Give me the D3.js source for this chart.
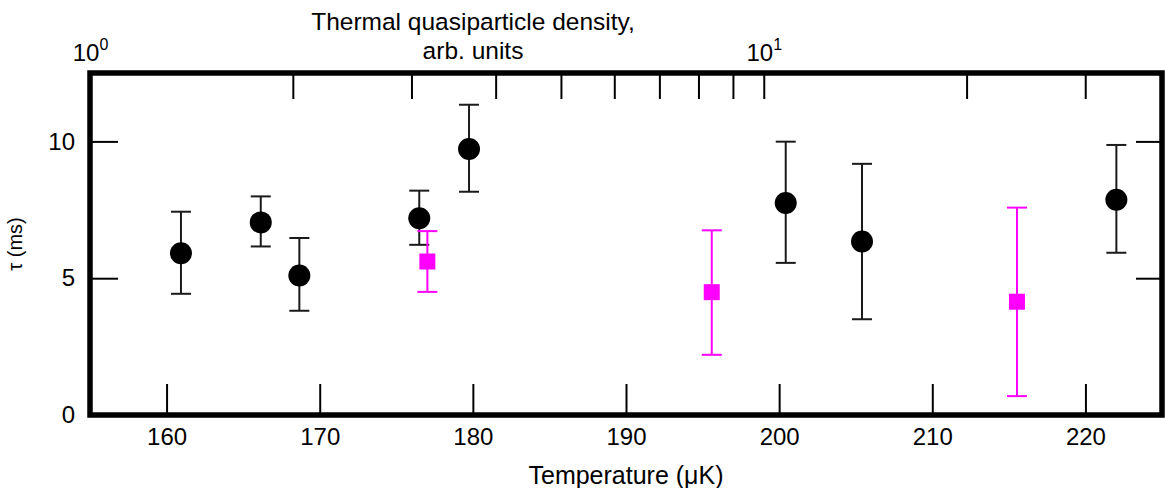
<!DOCTYPE html>
<html>
<head>
<meta charset="utf-8">
<script src="https://cdn.jsdelivr.net/npm/d3@7"></script>
<style>
  html, body { margin: 0; padding: 0; background: #fff; }
  svg { display: block; font-family: "Liberation Sans", Arial, Helvetica, sans-serif; }
</style>
</head>
<body>
<svg id="chart" width="1165" height="488"></svg>
<script>
// ---- data ----
const blackTemp = [160.94, 166.15, 168.67, 176.5, 179.75, 200.43, 205.41, 222.02];
const blackTau  = [5.91, 7.04, 5.10, 7.19, 9.72, 7.75, 6.34, 7.87];
const blackHi   = [7.43, 7.99, 6.47, 8.20, 11.34, 9.99, 9.18, 9.87];
const blackLo   = [4.43, 6.16, 3.81, 6.22, 8.16, 5.56, 3.50, 5.93];

const magTemp = [177.03, 195.6, 215.53];
const magTau  = [5.61, 4.49, 4.14];
const magHi   = [6.72, 6.75, 7.58];
const magLo   = [4.50, 2.20, 0.69];

const xTicks = [160, 170, 180, 190, 200, 210, 220];
const yTicks = [0, 5, 10];
const topTicks = [1, 2, 3, 4, 5, 6, 7, 8, 9, 10, 20, 30];
const topLabelled = [1, 10];
const xDomain = [155, 225];
const yDomain = [0, 12.5];
const topDomain = [1, 39.0];

// ---- layout ----
const L = 90, R = 1162, T = 73, B = 415;
const svg = d3.select("#chart");

const x = d3.scaleLinear().domain(xDomain).range([L, R]);
const y = d3.scaleLinear().domain(yDomain).range([B, T]);
const xTop = d3.scaleLog().domain(topDomain).range([L, R]);

function styleAxis(g, size) {
  g.select(".domain").remove();
  g.selectAll(".tick line").attr("stroke", "#000").attr("stroke-width", 2);
  g.selectAll(".tick text").attr("fill", "#000").attr("font-size", size)
   .attr("font-family", "Liberation Sans, Arial, sans-serif");
}

// bottom axis
svg.append("g").attr("transform", `translate(0,${B})`)
  .call(d3.axisBottom(x).tickValues(xTicks).tickSize(-31).tickPadding(13).tickFormat(d3.format("d")))
  .call(g => styleAxis(g, 24));

// left axis
svg.append("g").attr("transform", `translate(${L},0)`)
  .call(d3.axisLeft(y).tickValues(yTicks).tickSize(-28).tickPadding(15).tickFormat(d3.format("d")))
  .call(g => styleAxis(g, 24));

// right axis (ticks only)
svg.append("g").attr("transform", `translate(${R},0)`)
  .call(d3.axisRight(y).tickValues(yTicks.filter(v => v > 0)).tickSize(-26).tickFormat(""))
  .call(g => styleAxis(g, 24));

// top log axis
const topAxisG = svg.append("g").attr("transform", `translate(0,${T})`)
  .call(d3.axisTop(xTop).tickValues(topTicks).tickSize(-26).tickPadding(12)
    .tickFormat(d => topLabelled.includes(d) ? "10" : ""))
  .call(g => styleAxis(g, 24));
topAxisG.selectAll(".tick text").each(function(d) {
  if (!topLabelled.includes(d)) return;
  const t = d3.select(this);
  t.attr("dy", null).attr("y", -12);
  t.append("tspan").attr("font-size", 16).attr("dy", -11)
   .text(Math.round(Math.log10(d)));
});

// frame
svg.append("rect")
  .attr("x", L).attr("y", T).attr("width", R - L).attr("height", B - T)
  .attr("fill", "none").attr("stroke", "#000").attr("stroke-width", 5.5);

// error bars + markers
function drawSeries(temp, tau, hi, lo, color, barColor, shape) {
  const g = svg.append("g");
  const data = temp.map((t, i) => ({t, v: tau[i], hi: hi[i], lo: lo[i]}));
  const cap = 10;
  g.selectAll("line.v").data(data).join("line")
    .attr("x1", d => x(d.t)).attr("x2", d => x(d.t))
    .attr("y1", d => y(d.hi)).attr("y2", d => y(d.lo))
    .attr("stroke", barColor).attr("stroke-width", 2);
  g.selectAll("line.ch").data(data).join("line")
    .attr("x1", d => x(d.t) - cap).attr("x2", d => x(d.t) + cap)
    .attr("y1", d => y(d.hi)).attr("y2", d => y(d.hi))
    .attr("stroke", barColor).attr("stroke-width", 2);
  g.selectAll("line.cl").data(data).join("line")
    .attr("x1", d => x(d.t) - cap).attr("x2", d => x(d.t) + cap)
    .attr("y1", d => y(d.lo)).attr("y2", d => y(d.lo))
    .attr("stroke", barColor).attr("stroke-width", 2);
  if (shape === "circle") {
    g.selectAll("circle").data(data).join("circle")
      .attr("cx", d => x(d.t)).attr("cy", d => y(d.v)).attr("r", 11)
      .attr("fill", color);
  } else {
    const s = 16;
    g.selectAll("rect").data(data).join("rect")
      .attr("x", d => x(d.t) - s / 2).attr("y", d => y(d.v) - s / 2)
      .attr("width", s).attr("height", s).attr("fill", color);
  }
}
drawSeries(blackTemp, blackTau, blackHi, blackLo, "#000", "#1a1a1a", "circle");
drawSeries(magTemp, magTau, magHi, magLo, "#ff00ff", "#ff00ff", "square");

// titles
svg.append("text").attr("x", (L + R) / 2).attr("y", 484)
  .attr("text-anchor", "middle").attr("font-size", 25).attr("fill", "#000")
  .text("Temperature (μK)");

svg.append("text")
  .attr("transform", `translate(22,${(T + B) / 2}) rotate(-90)`)
  .attr("text-anchor", "middle").attr("font-size", 20).attr("fill", "#000")
  .text("τ (ms)");

const topTitle = svg.append("text").attr("text-anchor", "middle")
  .attr("font-size", 24.5).attr("fill", "#000");
topTitle.append("tspan").attr("x", 473).attr("y", 30).text("Thermal quasiparticle density,");
topTitle.append("tspan").attr("x", 473).attr("y", 59).text("arb. units");
</script>
</body>
</html>
